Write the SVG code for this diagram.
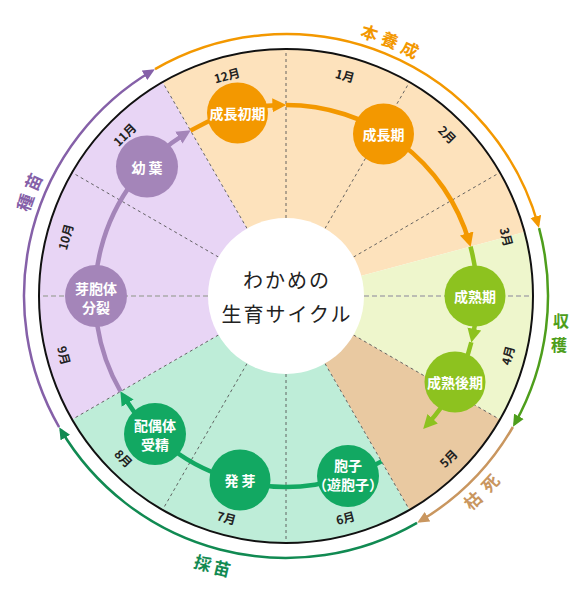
<svg xmlns="http://www.w3.org/2000/svg" width="580" height="590" viewBox="0 0 580 590">
<style>
.mon{font-family:"Noto Sans CJK JP","Noto Sans",sans-serif;font-size:12px;font-weight:bold;fill:#222;text-anchor:middle;dominant-baseline:central}
.nt{font-family:"Noto Sans CJK JP","Noto Sans",sans-serif;font-size:14px;font-weight:bold;fill:#fff;text-anchor:middle;dominant-baseline:central}
.ot{font-family:"Noto Sans CJK JP","Noto Sans",sans-serif;font-size:17px;font-weight:bold;text-anchor:middle;dominant-baseline:central}
.title{font-family:"Noto Sans CJK JP","Noto Sans",sans-serif;font-size:20px;fill:#222;text-anchor:middle;dominant-baseline:central;letter-spacing:2px}
.dash{stroke:#555;stroke-width:0.9;stroke-dasharray:3 3;fill:none}
.dash2{stroke:#aaa;stroke-width:1.4;stroke-dasharray:5 3;fill:none}
.ia{fill:none;stroke-width:4.5}
.oa{fill:none;stroke-width:2.5}
</style>
<defs>
<marker id="mPu" markerUnits="userSpaceOnUse" markerWidth="14" markerHeight="14" viewBox="0 0 13 13" refX="8" refY="6.5" orient="auto"><path d="M0,0 L13,6.5 L0,13 z" fill="#A485B9"/></marker>
<marker id="mOr" markerUnits="userSpaceOnUse" markerWidth="14" markerHeight="14" viewBox="0 0 13 13" refX="8" refY="6.5" orient="auto"><path d="M0,0 L13,6.5 L0,13 z" fill="#F39800"/></marker>
<marker id="mYg" markerUnits="userSpaceOnUse" markerWidth="14" markerHeight="14" viewBox="0 0 13 13" refX="8" refY="6.5" orient="auto"><path d="M0,0 L13,6.5 L0,13 z" fill="#8DC21F"/></marker>
<marker id="mGr" markerUnits="userSpaceOnUse" markerWidth="14" markerHeight="14" viewBox="0 0 13 13" refX="8" refY="6.5" orient="auto"><path d="M0,0 L13,6.5 L0,13 z" fill="#12A862"/></marker>
<marker id="oOr" markerUnits="userSpaceOnUse" markerWidth="12" markerHeight="12" viewBox="0 0 12 11" refX="9" refY="5.5" orient="auto"><path d="M0,0 L12,5.5 L0,11 z" fill="#F39800"/></marker>
<marker id="oHg" markerUnits="userSpaceOnUse" markerWidth="12" markerHeight="12" viewBox="0 0 12 11" refX="9" refY="5.5" orient="auto"><path d="M0,0 L12,5.5 L0,11 z" fill="#4E9E1C"/></marker>
<marker id="oTn" markerUnits="userSpaceOnUse" markerWidth="12" markerHeight="12" viewBox="0 0 12 11" refX="9" refY="5.5" orient="auto"><path d="M0,0 L12,5.5 L0,11 z" fill="#C9965F"/></marker>
<marker id="oDg" markerUnits="userSpaceOnUse" markerWidth="12" markerHeight="12" viewBox="0 0 12 11" refX="9" refY="5.5" orient="auto"><path d="M0,0 L12,5.5 L0,11 z" fill="#118A52"/></marker>
<marker id="oPu" markerUnits="userSpaceOnUse" markerWidth="12" markerHeight="12" viewBox="0 0 12 11" refX="9" refY="5.5" orient="auto"><path d="M0,0 L12,5.5 L0,11 z" fill="#8560A8"/></marker>
</defs>
<rect width="580" height="590" fill="#fff"/>
<g id="sectors">
<path d="M286,296 L162.5,82.09 A247,247 0 0 1 524.58,232.07 Z" fill="#FDE2BC"/>
<path d="M286,296 L524.58,232.07 A247,247 0 0 1 499.91,419.5 Z" fill="#EEF6CC"/>
<path d="M286,296 L499.91,419.5 A247,247 0 0 1 409.5,509.91 Z" fill="#E9C9A1"/>
<path d="M286,296 L409.5,509.91 A247,247 0 0 1 72.09,419.5 Z" fill="#BEEDD8"/>
<path d="M286,296 L72.09,419.5 A247,247 0 0 1 162.5,82.09 Z" fill="#E8D5F5"/>
</g>
<g id="month-lines">
<path class="dash" d="M286,218 L286,49"/>
<path class="dash" d="M325,228.45 L409.5,82.09"/>
<path class="dash" d="M353.55,257 L499.91,172.5"/>
<path class="dash2" d="M364,296 L533,296"/>
<path class="dash" d="M353.55,335 L499.91,419.5"/>
<path class="dash" d="M325,363.55 L409.5,509.91"/>
<path class="dash" d="M286,374 L286,543"/>
<path class="dash" d="M247,363.55 L162.5,509.91"/>
<path class="dash" d="M218.45,335 L72.09,419.5"/>
<path class="dash2" d="M208,296 L39,296"/>
<path class="dash" d="M218.45,257 L72.09,172.5"/>
<path class="dash" d="M247,228.45 L162.5,82.09"/>
</g>
<circle cx="286" cy="296" r="247" fill="none" stroke="#111" stroke-width="2"/>
<circle cx="286" cy="296" r="78" fill="#fff"/>
<g id="title">
<text class="title" x="287" y="279">わかめの</text>
<text class="title" x="287" y="313">生育サイクル</text>
</g>
<g id="months">
<text class="mon" x="345.27" y="74.8" transform="rotate(15 345.27 74.8)">1月</text>
<text class="mon" x="447.93" y="134.07" transform="rotate(45 447.93 134.07)">2月</text>
<text class="mon" x="507.2" y="236.73" transform="rotate(75 507.2 236.73)">3月</text>
<text class="mon" x="507.2" y="355.27" transform="rotate(-75 507.2 355.27)">4月</text>
<text class="mon" x="447.93" y="457.93" transform="rotate(-45 447.93 457.93)">5月</text>
<text class="mon" x="345.27" y="517.2" transform="rotate(-15 345.27 517.2)">6月</text>
<text class="mon" x="226.73" y="517.2" transform="rotate(15 226.73 517.2)">7月</text>
<text class="mon" x="124.07" y="457.93" transform="rotate(45 124.07 457.93)">8月</text>
<text class="mon" x="64.8" y="355.27" transform="rotate(75 64.8 355.27)">9月</text>
<text class="mon" x="64.8" y="236.73" transform="rotate(-75 64.8 236.73)">10月</text>
<text class="mon" x="124.07" y="134.07" transform="rotate(-45 124.07 134.07)">11月</text>
<text class="mon" x="226.73" y="74.8" transform="rotate(-15 226.73 74.8)">12月</text>
</g>
<g id="connectors">
<path class="ia" stroke="#A485B9" d="M120.59,391.5 A191,191 0 0 1 186.2,133.15" marker-end="url(#mPu)"/>
<path class="ia" stroke="#F39800" d="M190.5,130.59 A191,191 0 0 1 281,105.07" marker-end="url(#mOr)"/>
<path class="ia" stroke="#F39800" d="M286,105 A191,191 0 0 1 469.13,241.76" marker-end="url(#mOr)"/>
<path class="ia" stroke="#8DC21F" d="M470.49,246.57 A191,191 0 0 1 472.47,337.34" marker-end="url(#mYg)"/>
<path class="ia" stroke="#8DC21F" d="M471.32,342.21 A191,191 0 0 1 426.82,425.04" marker-end="url(#mYg)"/>
<path class="ia" stroke="#12A862" d="M381.5,461.41 A191,191 0 0 1 123.15,395.8" marker-end="url(#mGr)"/>
<path class="oa" stroke="#F39800" d="M155,69.1 A262,262 0 0 1 538.22,225.1" marker-end="url(#oOr)"/>
<path class="oa" stroke="#4E9E1C" d="M539.07,228.19 A262,262 0 0 1 514.48,424.22" marker-end="url(#oHg)"/>
<path class="oa" stroke="#C9965F" d="M512.9,427 A262,262 0 0 1 419.76,521.28" marker-end="url(#oTn)"/>
<path class="oa" stroke="#118A52" d="M417,522.9 A262,262 0 0 1 60.72,429.76" marker-end="url(#oDg)"/>
<path class="oa" stroke="#8560A8" d="M59.1,427 A262,262 0 0 1 152.24,70.72" marker-end="url(#oPu)"/>
</g>
<g id="stage-labels">
<text class="ot" fill="#F39800" x="286" y="19" transform="rotate(17.6 286 296)">本</text>
<text class="ot" fill="#F39800" x="286" y="19" transform="rotate(22.1 286 296)">養</text>
<text class="ot" fill="#F39800" x="286" y="19" transform="rotate(26.7 286 296)">成</text>
<text class="ot" fill="#4E9E1C" x="561" y="319.5" style="font-size:16px">収</text>
<text class="ot" fill="#4E9E1C" x="559" y="343.5" style="font-size:16px">穫</text>
<text class="ot" fill="#C9965F" x="286" y="572" transform="rotate(-42.4 286 296)">枯</text>
<text class="ot" fill="#C9965F" x="286" y="572" transform="rotate(-47.5 286 296)">死</text>
<text class="ot" fill="#118A52" x="286" y="575" transform="rotate(17.3 286 296)">採</text>
<text class="ot" fill="#118A52" x="286" y="575" transform="rotate(13.2 286 296)">苗</text>
<text class="ot" fill="#8560A8" x="286" y="18" transform="rotate(-70.3 286 296)">種</text>
<text class="ot" fill="#8560A8" x="286" y="18" transform="rotate(-65.7 286 296)">苗</text>
</g>
<g id="node-seichoshoki"><circle cx="237.5" cy="113" r="30.5" fill="#F39800"/><text class="nt" x="237.5" y="113">成長初期</text></g>
<g id="node-seichoki"><circle cx="383.5" cy="134" r="30.5" fill="#F39800"/><text class="nt" x="383.5" y="134">成長期</text></g>
<g id="node-seijukuki"><circle cx="475" cy="296" r="30.5" fill="#8DC21F"/><text class="nt" x="475" y="296">成熟期</text></g>
<g id="node-seijukukoki"><circle cx="455" cy="382" r="30.5" fill="#8DC21F"/><text class="nt" x="455" y="382">成熟後期</text></g>
<g id="node-hoshi"><circle cx="348" cy="476" r="31" fill="#12A862"/><text class="nt" x="348" y="465">胞子</text><text class="nt" x="348" y="484">（遊胞子）</text></g>
<g id="node-hatsuga"><circle cx="240" cy="480" r="30.5" fill="#12A862"/><text class="nt" x="241.5" y="480" style="letter-spacing:3px">発芽</text></g>
<g id="node-haiguutai"><circle cx="155" cy="434" r="31" fill="#12A862"/><text class="nt" x="155" y="425">配偶体</text><text class="nt" x="155" y="444">受精</text></g>
<g id="node-gahoutai"><circle cx="96" cy="296" r="31" fill="#A485B9"/><text class="nt" x="96" y="288">芽胞体</text><text class="nt" x="96" y="307">分裂</text></g>
<g id="node-youyou"><circle cx="147" cy="166.5" r="31" fill="#A485B9"/><text class="nt" x="148.5" y="166.5" style="letter-spacing:3px">幼葉</text></g>
</svg>
